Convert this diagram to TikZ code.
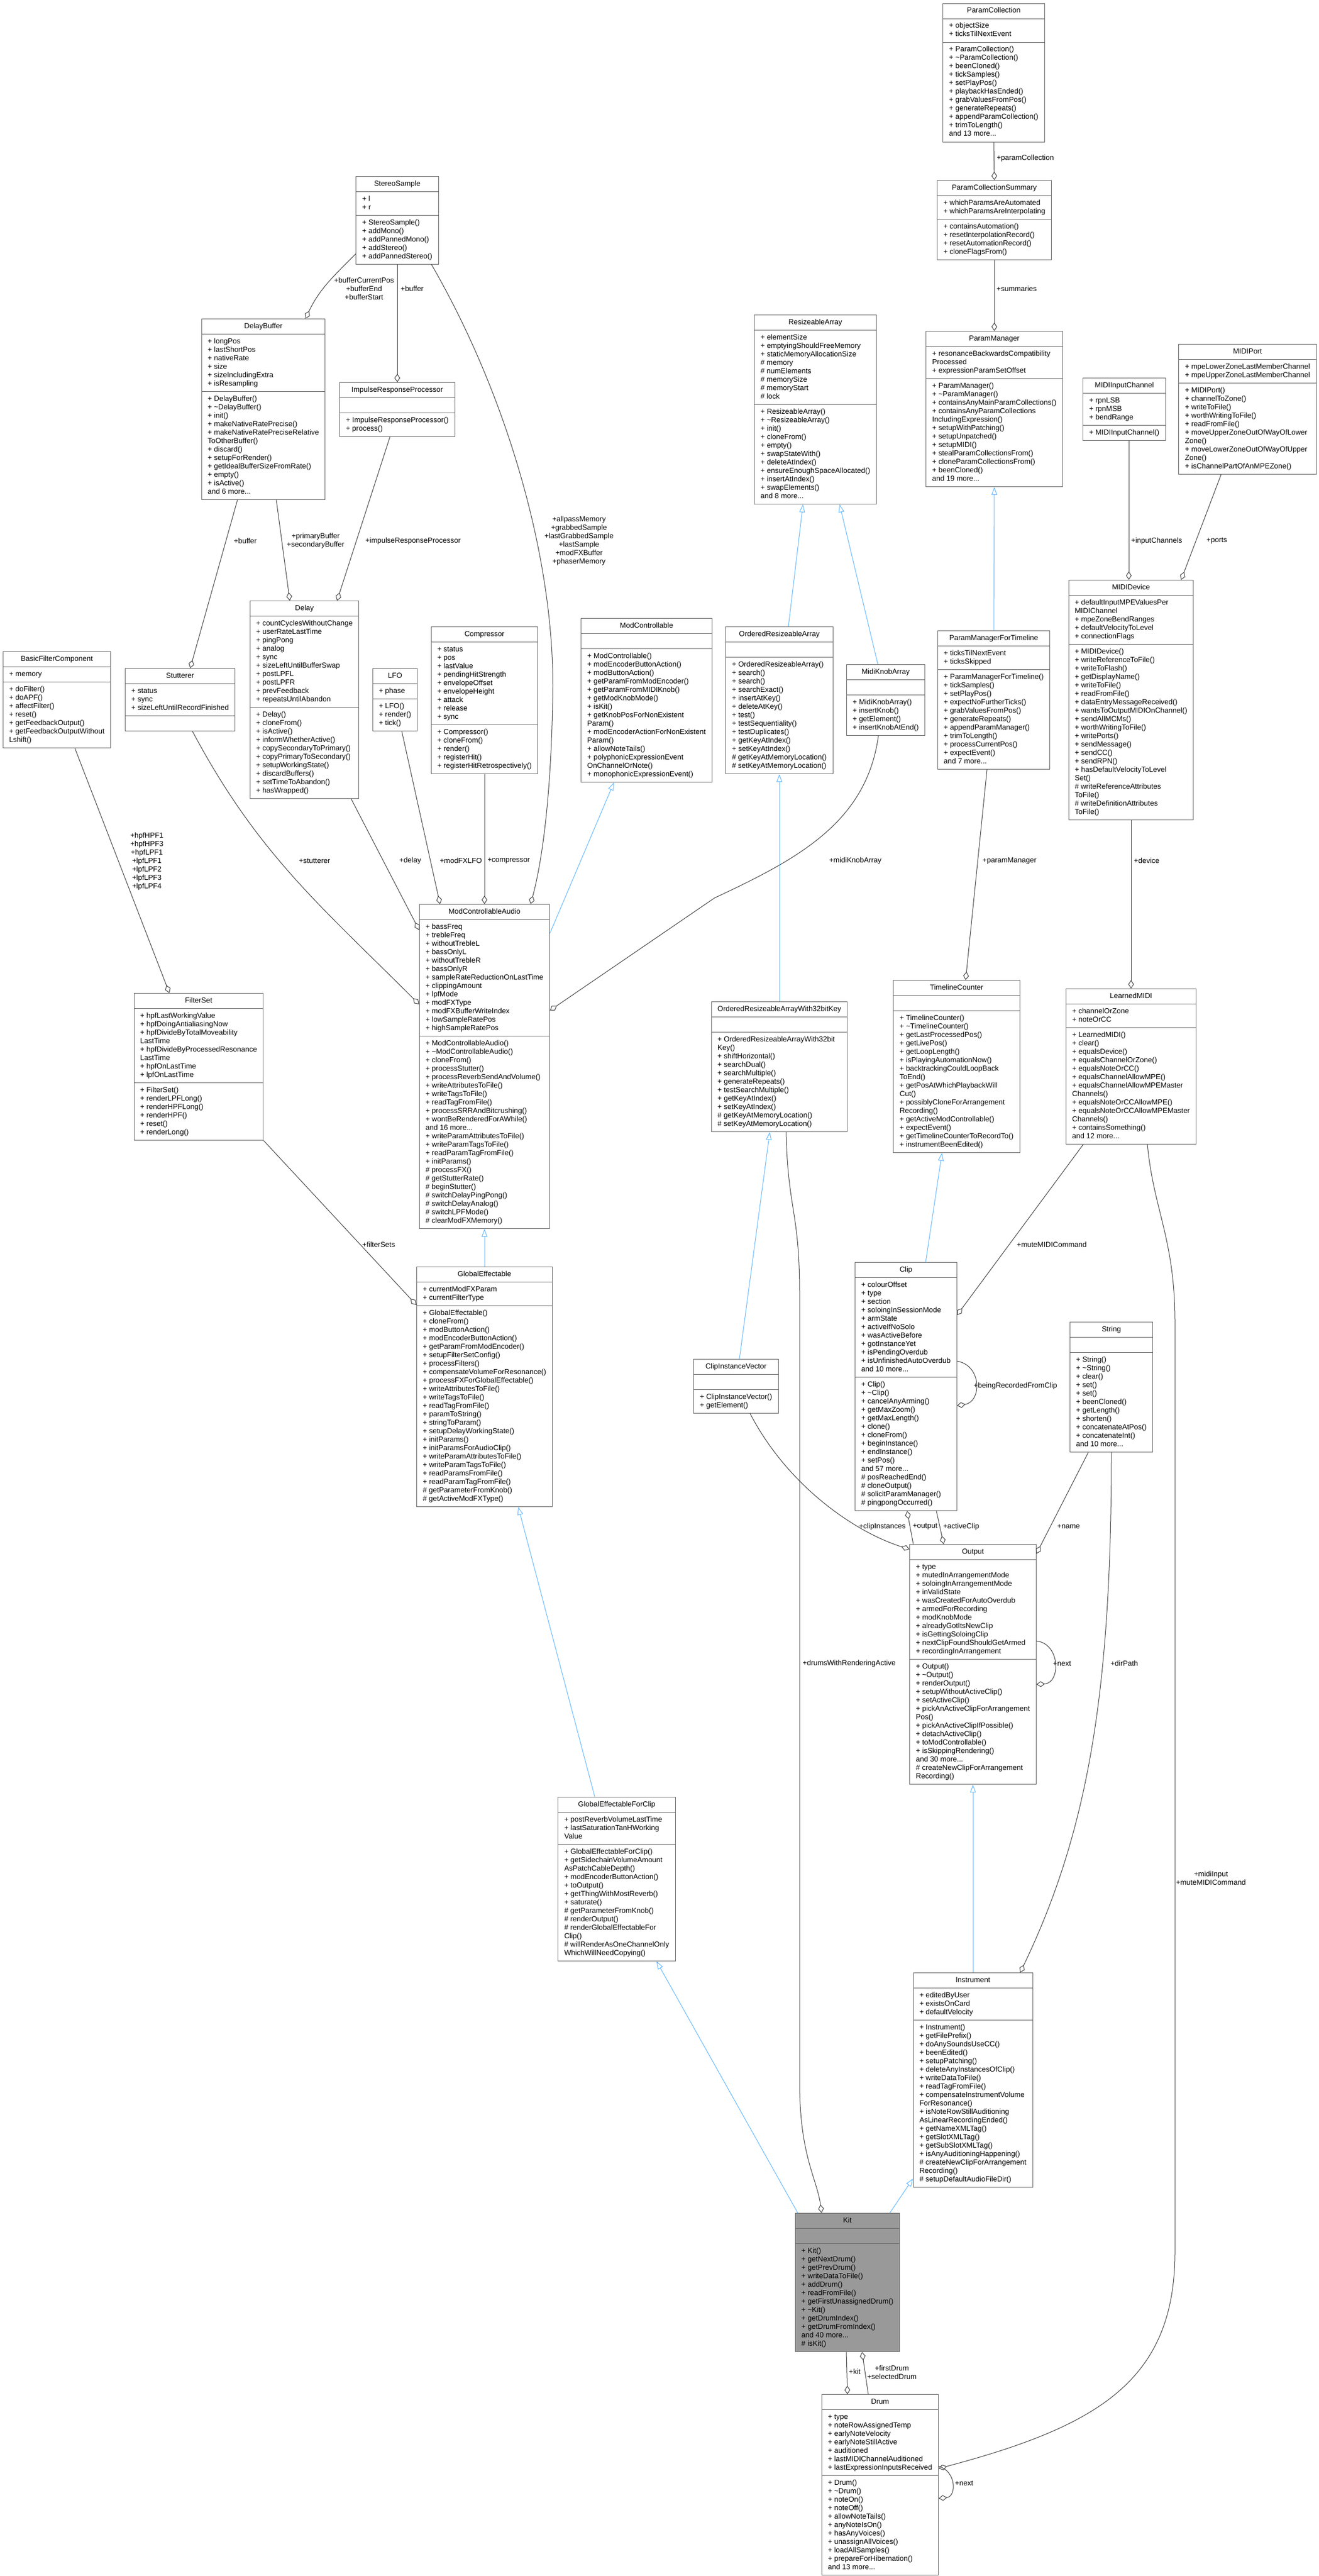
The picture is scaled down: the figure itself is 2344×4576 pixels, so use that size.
\documentclass[tikz,border=0pt]{standalone}
\usepackage{fontspec}
\setmainfont{Liberation Sans}
\usetikzlibrary{shapes.multipart,arrows.meta}
\definecolor{boxgray}{HTML}{666666}
\definecolor{edgegray}{HTML}{404040}
\definecolor{inhblue}{HTML}{63B8FF}
\definecolor{kitgray}{HTML}{999999}
\newcommand{\umlsec}[1]{\strut#1\strut}

\begin{document}
\begin{tikzpicture}[
    x=1pt, y=-1pt,
    % Class box styles
    cls/.style={rectangle split, rectangle split parts=3,
        rectangle split part align={center,left,left},
        draw=boxgray, fill=white, line width=1pt, align=left,
        inner xsep=11pt, inner ysep=5.5pt, anchor=north,
        font=\fontsize{13}{15}\selectfont},
    maincls/.style={cls, fill=kitgray},
    % Connector styles
    member/.style={draw=edgegray, line width=1pt, -{Diamond[open, length=15pt, width=10pt]}},
    inherit/.style={draw=inhblue, line width=1pt, -{Triangle[open, length=14pt, width=10pt]}},
    % Label style
    role/.style={font=\fontsize{13}{15}\selectfont, align=center, inner sep=0pt},
]

% Canvas
\fill[white] (0,0) rectangle (2344,4576);
\useasboundingbox (0,0) rectangle (2344,4576);

% Top row classes
\node[cls] (ss) at (706,313) {\umlsec{StereoSample}
    \nodepart{two}\umlsec{+ l\\+ r}
    \nodepart{three}\umlsec{+ StereoSample()\\+ addMono()\\+ addPannedMono()\\+ addStereo()\\+ addPannedStereo()}};
\node[cls] (pcol) at (1766,6) {\umlsec{ParamCollection}
    \nodepart{two}\umlsec{+ objectSize\\+ ticksTilNextEvent}
    \nodepart{three}\umlsec{+ ParamCollection()\\+ \textasciitilde{}ParamCollection()\\+ beenCloned()\\+ tickSamples()\\+ setPlayPos()\\+ playbackHasEnded()\\+ grabValuesFromPos()\\+ generateRepeats()\\+ appendParamCollection()\\+ trimToLength()\\and 13 more...}};
\node[cls] (pcs) at (1767,320) {\umlsec{ParamCollectionSummary}
    \nodepart{two}\umlsec{+ whichParamsAreAutomated\\+ whichParamsAreInterpolating}
    \nodepart{three}\umlsec{+ containsAutomation()\\+ resetInterpolationRecord()\\+ resetAutomationRecord()\\+ cloneFlagsFrom()}};
\node[cls] (dbuf) at (468,566) {\umlsec{DelayBuffer}
    \nodepart{two}\umlsec{+ longPos\\+ lastShortPos\\+ nativeRate\\+ size\\+ sizeIncludingExtra\\+ isResampling}
    \nodepart{three}\umlsec{+ DelayBuffer()\\+ \textasciitilde{}DelayBuffer()\\+ init()\\+ makeNativeRatePrecise()\\+ makeNativeRatePreciseRelative\\ToOtherBuffer()\\+ discard()\\+ setupForRender()\\+ getIdealBufferSizeFromRate()\\+ empty()\\+ isActive()\\and 6 more...}};
\node[cls] (irp) at (706,679) {\umlsec{ImpulseResponseProcessor}
    \nodepart{two}\strut
    \nodepart{three}\umlsec{+ ImpulseResponseProcessor()\\+ process()}};
\node[cls] (rarr) at (1449,559) {\umlsec{ResizeableArray}
    \nodepart{two}\umlsec{+ elementSize\\+ emptyingShouldFreeMemory\\+ staticMemoryAllocationSize\\\# memory\\\# numElements\\\# memorySize\\\# memoryStart\\\# lock}
    \nodepart{three}\umlsec{+ ResizeableArray()\\+ \textasciitilde{}ResizeableArray()\\+ init()\\+ cloneFrom()\\+ empty()\\+ swapStateWith()\\+ deleteAtIndex()\\+ ensureEnoughSpaceAllocated()\\+ insertAtIndex()\\+ swapElements()\\and 8 more...}};
\node[cls] (pman) at (1767,588) {\umlsec{ParamManager}
    \nodepart{two}\umlsec{+ resonanceBackwardsCompatibility\\Processed\\+ expressionParamSetOffset}
    \nodepart{three}\umlsec{+ ParamManager()\\+ \textasciitilde{}ParamManager()\\+ containsAnyMainParamCollections()\\+ containsAnyParamCollections\\IncludingExpression()\\+ setupWithPatching()\\+ setupUnpatched()\\+ setupMIDI()\\+ stealParamCollectionsFrom()\\+ cloneParamCollectionsFrom()\\+ beenCloned()\\and 19 more...}};
\node[cls] (mic) at (1998,671) {\umlsec{MIDIInputChannel}
    \nodepart{two}\umlsec{+ rpnLSB\\+ rpnMSB\\+ bendRange}
    \nodepart{three}\umlsec{+ MIDIInputChannel()}};
\node[cls] (mport) at (2217,611) {\umlsec{MIDIPort}
    \nodepart{two}\umlsec{+ mpeLowerZoneLastMemberChannel\\+ mpeUpperZoneLastMemberChannel}
    \nodepart{three}\umlsec{+ MIDIPort()\\+ channelToZone()\\+ writeToFile()\\+ worthWritingToFile()\\+ readFromFile()\\+ moveUpperZoneOutOfWayOfLower\\Zone()\\+ moveLowerZoneOutOfWayOfUpper\\Zone()\\+ isChannelPartOfAnMPEZone()}};

% Effect classes
\node[cls] (bfc) at (101,1157) {\umlsec{BasicFilterComponent}
    \nodepart{two}\umlsec{+ memory}
    \nodepart{three}\umlsec{+ doFilter()\\+ doAPF()\\+ affectFilter()\\+ reset()\\+ getFeedbackOutput()\\+ getFeedbackOutputWithout\\Lshift()}};
\node[cls] (stut) at (320,1187) {\umlsec{Stutterer}
    \nodepart{two}\umlsec{+ status\\+ sync\\+ sizeLeftUntilRecordFinished}
    \nodepart{three}\strut};
\node[cls] (delay) at (541,1067) {\umlsec{Delay}
    \nodepart{two}\umlsec{+ countCyclesWithoutChange\\+ userRateLastTime\\+ pingPong\\+ analog\\+ sync\\+ sizeLeftUntilBufferSwap\\+ postLPFL\\+ postLPFR\\+ prevFeedback\\+ repeatsUntilAbandon}
    \nodepart{three}\umlsec{+ Delay()\\+ cloneFrom()\\+ isActive()\\+ informWhetherActive()\\+ copySecondaryToPrimary()\\+ copyPrimaryToSecondary()\\+ setupWorkingState()\\+ discardBuffers()\\+ setTimeToAbandon()\\+ hasWrapped()}};
\node[cls] (lfo) at (702,1187) {\umlsec{LFO}
    \nodepart{two}\umlsec{+ phase}
    \nodepart{three}\umlsec{+ LFO()\\+ render()\\+ tick()}};
\node[cls] (comp) at (861,1113) {\umlsec{Compressor}
    \nodepart{two}\umlsec{+ status\\+ pos\\+ lastValue\\+ pendingHitStrength\\+ envelopeOffset\\+ envelopeHeight\\+ attack\\+ release\\+ sync}
    \nodepart{three}\umlsec{+ Compressor()\\+ cloneFrom()\\+ render()\\+ registerHit()\\+ registerHitRetrospectively()}};
\node[cls] (mctl) at (1149,1098) {\umlsec{ModControllable}
    \nodepart{two}\strut
    \nodepart{three}\umlsec{+ ModControllable()\\+ modEncoderButtonAction()\\+ modButtonAction()\\+ getParamFromModEncoder()\\+ getParamFromMIDIKnob()\\+ getModKnobMode()\\+ isKit()\\+ getKnobPosForNonExistent\\Param()\\+ modEncoderActionForNonExistent\\Param()\\+ allowNoteTails()\\+ polyphonicExpressionEvent\\OnChannelOrNote()\\+ monophonicExpressionEvent()}};
\node[cls] (orarr) at (1385,1113) {\umlsec{OrderedResizeableArray}
    \nodepart{two}\strut
    \nodepart{three}\umlsec{+ OrderedResizeableArray()\\+ search()\\+ search()\\+ searchExact()\\+ insertAtKey()\\+ deleteAtKey()\\+ test()\\+ testSequentiality()\\+ testDuplicates()\\+ getKeyAtIndex()\\+ setKeyAtIndex()\\\# getKeyAtMemoryLocation()\\\# setKeyAtMemoryLocation()}};
\node[cls] (mka) at (1574,1180) {\umlsec{MidiKnobArray}
    \nodepart{two}\strut
    \nodepart{three}\umlsec{+ MidiKnobArray()\\+ insertKnob()\\+ getElement()\\+ insertKnobAtEnd()}};
\node[cls] (pmft) at (1766,1120) {\umlsec{ParamManagerForTimeline}
    \nodepart{two}\umlsec{+ ticksTilNextEvent\\+ ticksSkipped}
    \nodepart{three}\umlsec{+ ParamManagerForTimeline()\\+ tickSamples()\\+ setPlayPos()\\+ expectNoFurtherTicks()\\+ grabValuesFromPos()\\+ generateRepeats()\\+ appendParamManager()\\+ trimToLength()\\+ processCurrentPos()\\+ expectEvent()\\and 7 more...}};
\node[cls] (mdev) at (2010,1030) {\umlsec{MIDIDevice}
    \nodepart{two}\umlsec{+ defaultInputMPEValuesPer\\MIDIChannel\\+ mpeZoneBendRanges\\+ defaultVelocityToLevel\\+ connectionFlags}
    \nodepart{three}\umlsec{+ MIDIDevice()\\+ writeReferenceToFile()\\+ writeToFlash()\\+ getDisplayName()\\+ writeToFile()\\+ readFromFile()\\+ dataEntryMessageReceived()\\+ wantsToOutputMIDIOnChannel()\\+ sendAllMCMs()\\+ worthWritingToFile()\\+ writePorts()\\+ sendMessage()\\+ sendCC()\\+ sendRPN()\\+ hasDefaultVelocityToLevel\\Set()\\\# writeReferenceAttributes\\ToFile()\\\# writeDefinitionAttributes\\ToFile()}};

% Middle classes
\node[cls] (mca) at (861,1606) {\umlsec{ModControllableAudio}
    \nodepart{two}\umlsec{+ bassFreq\\+ trebleFreq\\+ withoutTrebleL\\+ bassOnlyL\\+ withoutTrebleR\\+ bassOnlyR\\+ sampleRateReductionOnLastTime\\+ clippingAmount\\+ lpfMode\\+ modFXType\\+ modFXBufferWriteIndex\\+ lowSampleRatePos\\+ highSampleRatePos}
    \nodepart{three}\umlsec{+ ModControllableAudio()\\+ \textasciitilde{}ModControllableAudio()\\+ cloneFrom()\\+ processStutter()\\+ processReverbSendAndVolume()\\+ writeAttributesToFile()\\+ writeTagsToFile()\\+ readTagFromFile()\\+ processSRRAndBitcrushing()\\+ wontBeRenderedForAWhile()\\and 16 more...\\+ writeParamAttributesToFile()\\+ writeParamTagsToFile()\\+ readParamTagFromFile()\\+ initParams()\\\# processFX()\\\# getStutterRate()\\\# beginStutter()\\\# switchDelayPingPong()\\\# switchDelayAnalog()\\\# switchLPFMode()\\\# clearModFXMemory()}};
\node[cls] (fset) at (353,1764) {\umlsec{FilterSet}
    \nodepart{two}\umlsec{+ hpfLastWorkingValue\\+ hpfDoingAntialiasingNow\\+ hpfDivideByTotalMoveability\\LastTime\\+ hpfDivideByProcessedResonance\\LastTime\\+ hpfOnLastTime\\+ lpfOnLastTime}
    \nodepart{three}\umlsec{+ FilterSet()\\+ renderLPFLong()\\+ renderHPFLong()\\+ renderHPF()\\+ reset()\\+ renderLong()}};
\node[cls] (or32) at (1385,1779) {\umlsec{OrderedResizeableArrayWith32bitKey}
    \nodepart{two}\strut
    \nodepart{three}\umlsec{+ OrderedResizeableArrayWith32bit\\Key()\\+ shiftHorizontal()\\+ searchDual()\\+ searchMultiple()\\+ generateRepeats()\\+ testSearchMultiple()\\+ getKeyAtIndex()\\+ setKeyAtIndex()\\\# getKeyAtMemoryLocation()\\\# setKeyAtMemoryLocation()}};
\node[cls] (tlc) at (1700,1741) {\umlsec{TimelineCounter}
    \nodepart{two}\strut
    \nodepart{three}\umlsec{+ TimelineCounter()\\+ \textasciitilde{}TimelineCounter()\\+ getLastProcessedPos()\\+ getLivePos()\\+ getLoopLength()\\+ isPlayingAutomationNow()\\+ backtrackingCouldLoopBack\\ToEnd()\\+ getPosAtWhichPlaybackWill\\Cut()\\+ possiblyCloneForArrangement\\Recording()\\+ getActiveModControllable()\\+ expectEvent()\\+ getTimelineCounterToRecordTo()\\+ instrumentBeenEdited()}};
\node[cls] (lmidi) at (2010,1756) {\umlsec{LearnedMIDI}
    \nodepart{two}\umlsec{+ channelOrZone\\+ noteOrCC}
    \nodepart{three}\umlsec{+ LearnedMIDI()\\+ clear()\\+ equalsDevice()\\+ equalsChannelOrZone()\\+ equalsNoteOrCC()\\+ equalsChannelAllowMPE()\\+ equalsChannelAllowMPEMaster\\Channels()\\+ equalsNoteOrCCAllowMPE()\\+ equalsNoteOrCCAllowMPEMaster\\Channels()\\+ containsSomething()\\and 12 more...}};
\node[cls] (geff) at (861,2250) {\umlsec{GlobalEffectable}
    \nodepart{two}\umlsec{+ currentModFXParam\\+ currentFilterType}
    \nodepart{three}\umlsec{+ GlobalEffectable()\\+ cloneFrom()\\+ modButtonAction()\\+ modEncoderButtonAction()\\+ getParamFromModEncoder()\\+ setupFilterSetConfig()\\+ processFilters()\\+ compensateVolumeForResonance()\\+ processFXForGlobalEffectable()\\+ writeAttributesToFile()\\+ writeTagsToFile()\\+ readTagFromFile()\\+ paramToString()\\+ stringToParam()\\+ setupDelayWorkingState()\\+ initParams()\\+ initParamsForAudioClip()\\+ writeParamAttributesToFile()\\+ writeParamTagsToFile()\\+ readParamsFromFile()\\+ readParamTagFromFile()\\\# getParameterFromKnob()\\\# getActiveModFXType()}};
\node[cls] (clip) at (1610,2242) {\umlsec{Clip}
    \nodepart{two}\umlsec{+ colourOffset\\+ type\\+ section\\+ soloingInSessionMode\\+ armState\\+ activeIfNoSolo\\+ wasActiveBefore\\+ gotInstanceYet\\+ isPendingOverdub\\+ isUnfinishedAutoOverdub\\and 10 more...}
    \nodepart{three}\umlsec{+ Clip()\\+ \textasciitilde{}Clip()\\+ cancelAnyArming()\\+ getMaxZoom()\\+ getMaxLength()\\+ clone()\\+ cloneFrom()\\+ beginInstance()\\+ endInstance()\\+ setPos()\\and 57 more...\\\# posReachedEnd()\\\# cloneOutput()\\\# solicitParamManager()\\\# pingpongOccurred()}};
\node[cls] (civ) at (1308,2414) {\umlsec{ClipInstanceVector}
    \nodepart{two}\strut
    \nodepart{three}\umlsec{+ ClipInstanceVector()\\+ getElement()}};
\node[cls] (str) at (1975,2348) {\umlsec{String}
    \nodepart{two}\strut
    \nodepart{three}\umlsec{+ String()\\+ \textasciitilde{}String()\\+ clear()\\+ set()\\+ set()\\+ beenCloned()\\+ getLength()\\+ shorten()\\+ concatenateAtPos()\\+ concatenateInt()\\and 10 more...}};
\node[cls] (out) at (1729,2743) {\umlsec{Output}
    \nodepart{two}\umlsec{+ type\\+ mutedInArrangementMode\\+ soloingInArrangementMode\\+ inValidState\\+ wasCreatedForAutoOverdub\\+ armedForRecording\\+ modKnobMode\\+ alreadyGotItsNewClip\\+ isGettingSoloingClip\\+ nextClipFoundShouldGetArmed\\+ recordingInArrangement}
    \nodepart{three}\umlsec{+ Output()\\+ \textasciitilde{}Output()\\+ renderOutput()\\+ setupWithoutActiveClip()\\+ setActiveClip()\\+ pickAnActiveClipForArrangement\\Pos()\\+ pickAnActiveClipIfPossible()\\+ detachActiveClip()\\+ toModControllable()\\+ isSkippingRendering()\\and 30 more...\\\# createNewClipForArrangement\\Recording()}};

% Bottom classes
\node[cls] (gefc) at (1096,3192) {\umlsec{GlobalEffectableForClip}
    \nodepart{two}\umlsec{+ postReverbVolumeLastTime\\+ lastSaturationTanHWorking\\Value}
    \nodepart{three}\umlsec{+ GlobalEffectableForClip()\\+ getSidechainVolumeAmount\\AsPatchCableDepth()\\+ modEncoderButtonAction()\\+ toOutput()\\+ getThingWithMostReverb()\\+ saturate()\\\# getParameterFromKnob()\\\# renderOutput()\\\# renderGlobalEffectableFor\\Clip()\\\# willRenderAsOneChannelOnly\\WhichWillNeedCopying()}};
\node[cls] (inst) at (1729,3504) {\umlsec{Instrument}
    \nodepart{two}\umlsec{+ editedByUser\\+ existsOnCard\\+ defaultVelocity}
    \nodepart{three}\umlsec{+ Instrument()\\+ getFilePrefix()\\+ doAnySoundsUseCC()\\+ beenEdited()\\+ setupPatching()\\+ deleteAnyInstancesOfClip()\\+ writeDataToFile()\\+ readTagFromFile()\\+ compensateInstrumentVolume\\ForResonance()\\+ isNoteRowStillAuditioning\\AsLinearRecordingEnded()\\+ getNameXMLTag()\\+ getSlotXMLTag()\\+ getSubSlotXMLTag()\\+ isAnyAuditioningHappening()\\\# createNewClipForArrangement\\Recording()\\\# setupDefaultAudioFileDir()}};
\node[maincls] (kit) at (1506,3931) {\umlsec{Kit}
    \nodepart{two}\strut
    \nodepart{three}\umlsec{+ Kit()\\+ getNextDrum()\\+ getPrevDrum()\\+ writeDataToFile()\\+ addDrum()\\+ readFromFile()\\+ getFirstUnassignedDrum()\\+ \textasciitilde{}Kit()\\+ getDrumIndex()\\+ getDrumFromIndex()\\and 40 more...\\\# isKit()}};
\node[cls] (drum) at (1564,4253) {\umlsec{Drum}
    \nodepart{two}\umlsec{+ type\\+ noteRowAssignedTemp\\+ earlyNoteVelocity\\+ earlyNoteStillActive\\+ auditioned\\+ lastMIDIChannelAuditioned\\+ lastExpressionInputsReceived}
    \nodepart{three}\umlsec{+ Drum()\\+ \textasciitilde{}Drum()\\+ noteOn()\\+ noteOff()\\+ allowNoteTails()\\+ anyNoteIsOn()\\+ hasAnyVoices()\\+ unassignAllVoices()\\+ loadAllSamples()\\+ prepareForHibernation()\\and 13 more...}};

% Member connectors (diamond at the owner)
\draw[member] ([yshift=19pt]ss.south west) to[out=225, in=65] ([xshift=75pt]dbuf.north);
\draw[member] (ss.south) -- (irp.north);
\draw[member] ([xshift=-13pt]ss.south east) .. controls (900,700) and (990,1000) .. (982,1250)
    .. controls (978,1450) and (958,1550) .. ([xshift=82pt]mca.north);
\draw[member] ([xshift=-46pt]dbuf.south) -- ([xshift=18pt]stut.north);
\draw[member] ([xshift=23pt]dbuf.south) -- ([xshift=-26pt]delay.north);
\draw[member] ([xshift=-13pt]irp.south) -- ([xshift=58pt]delay.north);
\draw[member] ([xshift=32pt]bfc.south) -- ([xshift=-52pt]fset.north);
\draw[member] ([xshift=22pt]stut.south) to[out=-62, in=135] ([yshift=-178pt]mca.north west);
\draw[member] ([xshift=83pt]delay.south) -- ([yshift=-46pt]mca.north west);
\draw[member] ([xshift=12pt]lfo.south) -- ([xshift=-79pt]mca.north);
\draw[member] (comp.south) -- (mca.north);
\draw[member] ([xshift=-13pt]mka.south) .. controls (1540,1460) and (1420,1525) .. (1270,1595)
    -- ([yshift=-189pt]mca.north east);
\draw[member] ([xshift=12pt]or32.south) .. controls (1400,2150) and (1421,2150) .. (1421,2300)
    -- (1421,3700) .. controls (1421,3830) and (1452,3870) .. ([xshift=-46pt]kit.north);
\draw[member] (pcol.south) -- (pcs.north);
\draw[member] (pcs.south) -- (pman.north);
\draw[member] ([xshift=-12pt]pmft.south) -- ([xshift=16pt]tlc.north);
\draw[member] ([xshift=8pt]mic.south) -- ([xshift=-4pt]mdev.north);
\draw[member] ([xshift=-47pt]mport.south) -- ([xshift=89pt]mdev.north);
\draw[member] (mdev.south) -- (lmidi.north);
\draw[member] ([xshift=-85pt]lmidi.south) -- ([yshift=-94pt]clip.north east);
\draw[member] ([xshift=29pt]lmidi.south) .. controls (2050,2150) and (2088,2200) .. (2088,2350)
    -- (2088,4000) .. controls (2088,4230) and (1950,4310) .. ([yshift=-132pt]drum.north east);
\draw[member] ([yshift=-176pt]clip.north east) .. controls (1745,2425) and (1745,2490) .. ([yshift=-255pt]clip.north east);
\draw[member] ([xshift=25pt]civ.south) .. controls (1400,2640) and (1520,2722) .. ([yshift=-9pt]out.north west);
\draw[member] ([xshift=-106pt]out.north) -- ([xshift=2pt]clip.south);
\draw[member] ([xshift=54pt]clip.south) -- ([xshift=-52pt]out.north);
\draw[member] ([xshift=-41pt]str.south) -- ([yshift=-17pt]out.north east);
\draw[member] ([yshift=-172pt]out.north east) .. controls (1885,2920) and (1885,2990) .. ([yshift=-249pt]out.north east);
\draw[member] (str.south) .. controls (1975,3000) and (1935,3250) .. ([xshift=84pt]inst.north);
\draw[member] (fset.south east) -- ([yshift=-68pt]geff.north west);
\draw[member] ([xshift=-2pt]kit.south) -- ([xshift=-58pt]drum.north);
\draw[member] ([xshift=-21pt]drum.north) -- ([xshift=26pt]kit.south);
\draw[member] ([yshift=-128pt]drum.north east) .. controls (1700,4390) and (1700,4435) .. ([yshift=-185pt]drum.north east);

% Inheritance connectors (triangle at the base class)
\draw[inherit] ([yshift=-52pt]mca.north east) -- ([xshift=-58pt]mctl.south);
\draw[inherit] ([xshift=16pt]orarr.north) -- ([xshift=-22pt]rarr.south);
\draw[inherit] ([xshift=-14pt]mka.north) -- ([xshift=43pt]rarr.south);
\draw[inherit] (or32.north) -- (orarr.south);
\draw[inherit] ([xshift=6pt]civ.north) -- ([xshift=-17pt]or32.south);
\draw[inherit] (pmft.north) -- (pman.south);
\draw[inherit] ([xshift=35pt]clip.north) -- ([xshift=-26pt]tlc.south);
\draw[inherit] (inst.north) -- (out.south);
\draw[inherit] (geff.north) -- (mca.south);
\draw[inherit] ([xshift=-39pt]gefc.north) -- ([xshift=60pt]geff.south);
\draw[inherit] ([xshift=5pt]kit.north west) -- ([xshift=-34pt]gefc.south east);
\draw[inherit] ([xshift=-18pt]kit.north east) -- ([yshift=16pt]inst.south west);

% Role labels
\node[role] (l-bufpos) at (647,513) {+bufferCurrentPos\\+bufferEnd\\+bufferStart};
\node[role, anchor=west] (l-buffer1) at (712,513) {+buffer};
\node[role] (l-allpass) at (1029,961) {+allpassMemory\\+grabbedSample\\+lastGrabbedSample\\+lastSample\\+modFXBuffer\\+phaserMemory};
\node[role] (l-buffer2) at (436,961) {+buffer};
\node[role] (l-primbuf) at (561,961) {+primaryBuffer\\+secondaryBuffer};
\node[role] (l-irp) at (734,961) {+impulseResponseProcessor};
\node[role] (l-hpf) at (261,1530) {+hpfHPF1\\+hpfHPF3\\+hpfLPF1\\+lpfLPF1\\+lpfLPF2\\+lpfLPF3\\+lpfLPF4};
\node[role] (l-stut) at (559,1529) {+stutterer};
\node[role] (l-delay) at (729,1529) {+delay};
\node[role] (l-lfo) at (819,1529) {+modFXLFO};
\node[role] (l-comp) at (904,1529) {+compressor};
\node[role] (l-mka) at (1520,1529) {+midiKnobArray};
\node[role] (l-pcol) at (1822,281) {+paramCollection};
\node[role, anchor=west] (l-summ) at (1771,513) {+summaries};
\node[role, anchor=west] (l-inch) at (2010,961) {+inputChannels};
\node[role, anchor=west] (l-ports) at (2144,961) {+ports};
\node[role, anchor=west] (l-pman) at (1746,1529) {+paramManager};
\node[role, anchor=west] (l-dev) at (2015,1529) {+device};
\node[role] (l-fsets) at (673,2211) {+filterSets};
\node[role, anchor=west] (l-mute) at (1807,2211) {+muteMIDICommand};
\node[role, anchor=west] (l-brfc) at (1730,2462) {+beingRecordedFromClip};
\node[role] (l-civ) at (1568,2712) {+clipInstances};
\node[role] (l-out) at (1644,2712) {+output};
\node[role] (l-act) at (1708,2712) {+activeClip};
\node[role] (l-name) at (1899,2712) {+name};
\node[role] (l-drwr) at (1509,2955) {+drumsWithRenderingActive};
\node[role, anchor=west] (l-next1) at (1871,2955) {+next};
\node[role] (l-dir) at (1998,2955) {+dirPath};
\node[role] (l-midi) at (2152,3336) {+midiInput\\+muteMIDICommand};
\node[role] (l-kit) at (1519,4213) {+kit};
\node[role] (l-first) at (1585,4214) {+firstDrum\\+selectedDrum};
\node[role, anchor=west] (l-next2) at (1697,4411) {+next};

\end{tikzpicture}
\end{document}
